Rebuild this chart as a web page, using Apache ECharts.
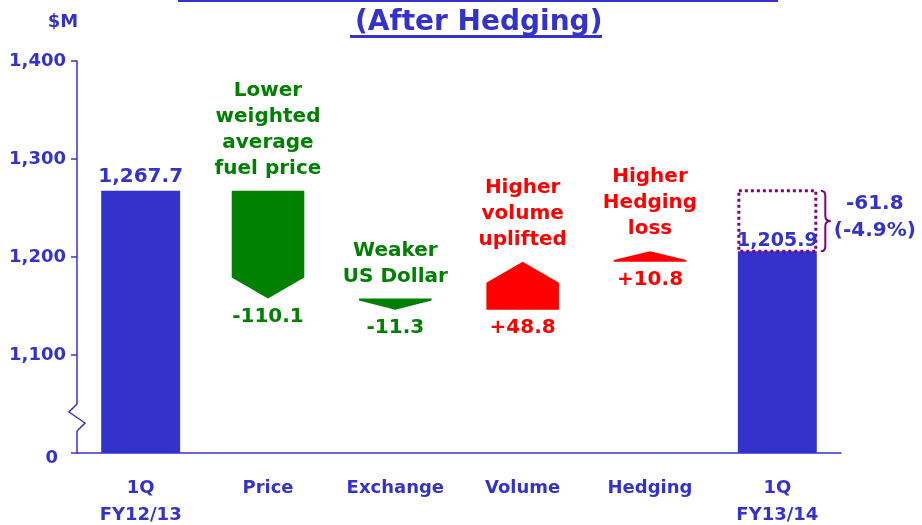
<!DOCTYPE html>
<html>
<head>
<meta charset="utf-8">
<script src="https://cdn.jsdelivr.net/npm/echarts@6/dist/echarts.min.js"></script>
<style>
  html, body { margin: 0; padding: 0; background: #ffffff; }
  #chart { width: 922px; height: 525px; }
</style>
</head>
<body>
<div id="chart"></div>
<script>
// ---- data ----
const categories = ['1Q\nFY12/13', 'Price', 'Exchange', 'Volume', 'Hedging', '1Q\nFY13/14'];
const startValue = 1267.7;
const endValue = 1205.9;
const changes = [-110.1, -11.3, 48.8, 10.8];
const changeNotes = ['Lower\nweighted\naverage\nfuel price', 'Weaker\nUS Dollar', 'Higher\nvolume\nuplifted', 'Higher\nHedging\nloss'];
const yTickValues = [1000, 1100, 1200, 1300, 1400];
const yTickLabels = ['0', '1,100', '1,200', '1,300', '1,400'];
const titleText = '(After Hedging)';
const unitText = '$M';

// ---- styling ----
const BLUE = '#3333CC';
const GREEN = '#008000';
const RED = '#FF0000';
const PURPLE = '#800080';
const FONT = '"DejaVu Sans", Verdana, sans-serif';

const yMin = yTickValues[0];
const yMax = yTickValues[yTickValues.length - 1];

// build waterfall items: [categoryIndex, fromValue, toValue, kind]
const items = [];
items.push([0, yMin, startValue, 0]);
let running = startValue;
changes.forEach((c, k) => {
  items.push([k + 1, running, +(running + c).toFixed(1), 1]);
  running += c;
});
items.push([categories.length - 1, yMin, endValue, 2]);

const fmtNum = v => v.toLocaleString('en-US', { minimumFractionDigits: 1, maximumFractionDigits: 1 });
const diffTotal = endValue - startValue;
const diffPct = diffTotal / startValue * 100;

function renderItem(params, api) {
  const idx = params.dataIndex;
  const i = api.value(0), lo = api.value(1), hi = api.value(2), kind = api.value(3);
  const band = api.size([1, 0])[0];
  const p0 = api.coord([i, lo]);
  const p1 = api.coord([i, hi]);
  const xc = p0[0];
  const children = [];
  if (kind === 0 || kind === 2) {
    const w = band * 0.62;
    children.push({
      type: 'rect',
      shape: { x: xc - w / 2, y: p1[1], width: w, height: p0[1] - p1[1] },
      style: { fill: BLUE }
    });
    if (kind === 0) {
      children.push({
        type: 'text',
        style: { text: fmtNum(hi), x: xc, y: p1[1] - 4, align: 'center', verticalAlign: 'bottom',
          fill: BLUE, fontSize: 20, fontWeight: 'bold', fontFamily: FONT }
      });
    } else {
      const pTop = api.coord([i, startValue]);
      const xr = xc + w / 2;
      children.push({
        type: 'rect',
        shape: { x: xc - w / 2 + 1, y: pTop[1], width: w - 2, height: p1[1] - pTop[1] },
        style: { fill: 'none', stroke: PURPLE, lineWidth: 3, lineDash: [3, 3] }
      });
      children.push({
        type: 'text',
        style: { text: fmtNum(hi), x: xc, y: p1[1] - 1, align: 'center', verticalAlign: 'bottom',
          fill: BLUE, fontSize: 19, fontWeight: 'bold', fontFamily: FONT }
      });
      const yT = pTop[1], yB = p1[1], yM = (yT + yB) / 2;
      const x0 = xr + 4, x1 = xr + 8.5, x2 = xr + 14;
      children.push({
        type: 'path',
        shape: {
          pathData: `M${x0} ${yT} Q${x1} ${yT} ${x1} ${yT + 5} L${x1} ${yM - 5} Q${x1} ${yM} ${x2} ${yM} Q${x1} ${yM} ${x1} ${yM + 5} L${x1} ${yB - 5} Q${x1} ${yB} ${x0} ${yB}`
        },
        style: { fill: 'none', stroke: PURPLE, lineWidth: 2 }
      });
      children.push({
        type: 'text',
        style: { text: fmtNum(diffTotal) + '\n(' + diffPct.toFixed(1) + '%)', x: xr + 58, y: yM - 4,
          align: 'center', verticalAlign: 'middle', lineHeight: 27,
          fill: BLUE, fontSize: 20, fontWeight: 'bold', fontFamily: FONT }
      });
    }
  } else {
    const w = band * 0.57;
    const xl = xc - w / 2, xr = xc + w / 2;
    const ys = p0[1], ye = p1[1];
    const h = Math.abs(ye - ys);
    const tip = Math.min(21, h * 0.82);
    const down = ye > ys;
    const shoulder = down ? ye - tip : ye + tip;
    const color = down ? GREEN : RED;
    children.push({
      type: 'polygon',
      shape: { points: [[xl, ys], [xr, ys], [xr, shoulder], [xc, ye], [xl, shoulder]] },
      style: { fill: color }
    });
    const top = Math.min(ys, ye), bottom = Math.max(ys, ye);
    const ch = changes[idx - 1];
    children.push({
      type: 'text',
      style: { text: changeNotes[idx - 1], x: xc, y: top - 9, align: 'center', verticalAlign: 'bottom',
        lineHeight: 26, fill: color, fontSize: 20, fontWeight: 'bold', fontFamily: FONT }
    });
    children.push({
      type: 'text',
      style: { text: (ch > 0 ? '+' : '') + fmtNum(ch), x: xc, y: bottom + 8, align: 'center', verticalAlign: 'top',
        fill: color, fontSize: 20, fontWeight: 'bold', fontFamily: FONT }
    });
  }
  return { type: 'group', children: children };
}

const chart = echarts.init(document.getElementById('chart'), null, { renderer: 'canvas' });
chart.setOption({
  animation: false,
  backgroundColor: '#ffffff',
  title: {
    text: titleText,
    left: 350,
    top: 4,
    textStyle: { fontFamily: FONT, fontWeight: 'bold', fontSize: 28, color: BLUE }
  },
  grid: { left: 77, right: 81, top: 61, bottom: 72, containLabel: false, outerBoundsMode: 'none' },
  xAxis: {
    type: 'category',
    data: categories,
    axisLine: { lineStyle: { color: BLUE, width: 1.5 } },
    axisTick: { length: 6, lineStyle: { color: BLUE, width: 1.5 } },
    axisLabel: { color: BLUE, fontFamily: FONT, fontWeight: 'bold', fontSize: 18, lineHeight: 27, margin: 22, interval: 0 }
  },
  yAxis: {
    type: 'value',
    min: yMin,
    max: yMax,
    interval: 100,
    name: unitText,
    nameLocation: 'end',
    nameGap: 30,
    nameTextStyle: { color: BLUE, fontFamily: FONT, fontWeight: 'bold', fontSize: 18, padding: [0, 28, 0, 0] },
    splitLine: { show: false },
    axisLine: { show: true, lineStyle: { color: BLUE, width: 1.5 } },
    axisTick: { show: true, length: 6, lineStyle: { color: BLUE, width: 1.5 } },
    axisLabel: {
      color: BLUE, fontFamily: FONT, fontWeight: 'bold', fontSize: 18, margin: 11,
      formatter: v => {
        const k = yTickValues.indexOf(v);
        const t = k >= 0 ? yTickLabels[k] : '';
        return v === yMin ? '{z|' + t + '}' : t;
      },
      rich: { z: { color: BLUE, fontFamily: FONT, fontWeight: 'bold', fontSize: 18, padding: [10, 8, 0, 0] } }
    }
  },
  graphic: [
    { type: 'rect', z: 100, shape: { x: 178, y: 0, width: 600, height: 2 }, style: { fill: BLUE } },
    { type: 'rect', z: 100, shape: { x: 350, y: 35, width: 252, height: 3 }, style: { fill: BLUE } },
    { type: 'rect', z: 100, shape: { x: 73, y: 404, width: 8, height: 27 }, style: { fill: '#ffffff' } },
    { type: 'polyline', z: 101, shape: { points: [[77, 404], [69, 412], [85, 423], [77, 431]] },
      style: { stroke: BLUE, lineWidth: 1.5, fill: 'none' } }
  ],
  series: [{
    type: 'custom',
    renderItem: renderItem,
    encode: { x: 0, y: [1, 2] },
    data: items,
    clip: false
  }]
});
</script>
</body>
</html>
